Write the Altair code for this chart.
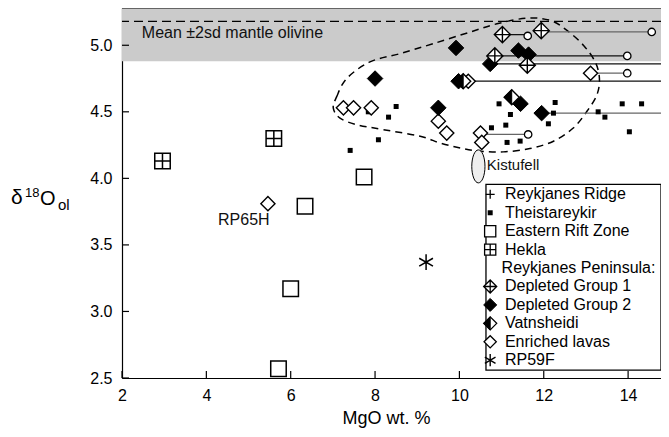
import altair as alt
import pandas as pd

W, H = 539, 370
XDOM = [2, 14.78]
YDOM = [2.5, 5.28]
FONT = "Liberation Sans"

# ---------------- data ----------------
theis_x = [7.41, 7.84, 8.08, 8.32, 8.50, 10.76, 10.94, 11.10, 11.13, 11.21, 11.44,
           12.11, 12.23, 12.27, 13.29, 13.45, 13.86, 14.03, 14.32]
theis_y = [4.21, 4.50, 4.29, 4.46, 4.54, 4.38, 4.56, 4.40, 4.27, 4.48, 4.28,
           4.41, 4.49, 4.57, 4.50, 4.46, 4.56, 4.35, 4.56]

erz_x = [7.74, 6.34, 6.00, 5.71]
erz_y = [4.01, 3.79, 3.17, 2.57]

hekla_x = [2.96, 5.60]
hekla_y = [4.13, 4.30]

rp59f_x = [9.21]
rp59f_y = [3.37]

enr_x = [5.46, 7.25, 7.49, 7.91, 9.50, 9.70, 10.21, 10.50, 10.53, 13.11]
enr_y = [3.81, 4.53, 4.53, 4.53, 4.43, 4.34, 4.73, 4.34, 4.27, 4.79]

dg2_x = [8.00, 9.92, 9.50, 9.98, 10.73, 11.40, 11.64, 11.45, 11.95]
dg2_y = [4.75, 4.98, 4.53, 4.73, 4.86, 4.96, 4.93, 4.56, 4.49]

vat_x = [10.09, 11.24]
vat_y = [4.73, 4.61]

dg1_x = [11.02, 11.94, 10.84, 11.61]
dg1_y = [5.08, 5.11, 4.92, 4.85]

circ_x = [11.62, 14.56, 13.98, 13.98, 11.63]
circ_y = [5.07, 5.10, 4.92, 4.79, 4.33]

# ranges (start, end, y)
blk_x1 = [11.02, 10.84, 10.73, 9.98]
blk_x2 = [11.62, 13.98, 15.50, 15.50]
blk_y = [5.08, 4.92, 4.86, 4.73]
gry_x1 = [11.94, 13.11, 11.95, 10.50]
gry_x2 = [14.56, 13.98, 15.50, 11.63]
gry_y = [5.10, 4.79, 4.49, 4.33]

# mantle olivine band
mantle_mean = 5.18
mantle_lo = 4.88
mantle_hi = 5.48

# dashed field outline
out_x = [7.01, 7.09, 7.33, 7.88, 8.59, 9.38, 10.25, 10.89, 11.60, 12.15, 12.55, 12.94,
         13.22, 13.32, 13.26, 13.02, 12.70, 12.23, 11.67, 11.04, 10.49, 10.02, 9.54,
         9.07, 8.20, 7.57, 7.17]
out_y = [4.527, 4.614, 4.751, 4.875, 4.937, 5.012, 5.099, 5.161, 5.204, 5.187, 5.112,
         5.000, 4.875, 4.751, 4.627, 4.502, 4.378, 4.279, 4.224, 4.199, 4.204, 4.228,
         4.266, 4.316, 4.366, 4.403, 4.452]

kist_x = [10.45]
kist_y = [4.09]

x_ticks = [2, 4, 6, 8, 10, 12, 14]
y_ticks = [2.5, 3.0, 3.5, 4.0, 4.5, 5.0]

legend_labels = ["Reykjanes Ridge", "Theistareykir", "Eastern Rift Zone", "Hekla",
                 "Reykjanes Peninsula:", "Depleted Group 1", "Depleted Group 2",
                 "Vatnsheidi", "Enriched lavas", "RP59F"]

# ---------------- shapes ----------------
DIAMOND_CROSS = "M0,-1L1,0L0,1L-1,0Z M-1,0L1,0 M0,-1L0,1"
SQUARE_CROSS = "M-1,-1L1,-1L1,1L-1,1Z M-1,0L1,0 M0,-1L0,1"
HALF_LEFT = "M0,-1L-1,0L0,1Z"
ASTERISK = "M0,-1L0,1 M-0.87,-0.5L0.87,0.5 M-0.87,0.5L0.87,-0.5"
PLUS = "M-1,0L1,0 M0,-1L0,1"
ELLIPSE = "M0,-1 A0.4,1 0 1,1 0,1 A0.4,1 0 1,1 0,-1 Z"

xscale = alt.Scale(domain=XDOM, nice=False, zero=False)
yscale = alt.Scale(domain=YDOM, nice=False, zero=False)
xaxis = alt.Axis(values=x_ticks, ticks=False, grid=False, labelFontSize=16, labelFont=FONT,
                 labelColor="black", labelPadding=9, labelFlush=False, domainColor="black",
                 domainWidth=1.2, title="MgO wt. %", titleFont=FONT, titleFontSize=18,
                 titleFontWeight="normal", titleColor="black", titleX=264, titleY=45,
                 titleBaseline="alphabetic", titleAlign="center")
yaxis = alt.Axis(values=y_ticks, format=".1f", ticks=False, grid=False, labelFontSize=16,
                 labelFont=FONT, labelColor="black", labelPadding=10, labelFlush=False,
                 domainColor="black", domainWidth=1.2, title=None)

EX = alt.X("x:Q", scale=xscale, axis=xaxis)
EY = alt.Y("y:Q", scale=yscale, axis=yaxis)


def df(xs, ys):
    return pd.DataFrame({"x": xs, "y": ys})


def pts(data, shape, size, fill, stroke="black", sw=1.3):
    return alt.Chart(data).mark_point(shape=shape, size=size, filled=True, fill=fill,
                                      stroke=stroke, strokeWidth=sw, opacity=1,
                                      fillOpacity=1, clip=True).encode(x=EX, y=EY)


layers = []

# band
band = alt.Chart(pd.DataFrame({"x": [XDOM[0]], "x2": [XDOM[1]], "y": [mantle_lo], "y2": [mantle_hi]}))
layers.append(band.mark_rect(color="#cbcbcb", clip=True).encode(x=EX, x2="x2:Q", y=EY, y2="y2:Q"))
mean_df = pd.DataFrame({"y": [mantle_mean]})
layers.append(alt.Chart(mean_df).mark_rule(color="black", strokeWidth=1.3, strokeDash=[9, 5])
              .encode(y=EY))
layers.append(alt.Chart(pd.DataFrame({"x": [2.47], "y": [5.09], "t": ["Mean ±2sd mantle olivine"]}))
              .mark_text(font=FONT, fontSize=16, align="left", baseline="middle", color="#111")
              .encode(x=EX, y=EY, text="t:N"))

# outline
out_df = pd.DataFrame({"x": out_x, "y": out_y, "i": list(range(len(out_x)))})
layers.append(alt.Chart(out_df).mark_line(interpolate="cardinal-closed", strokeDash=[7, 5],
                                          strokeWidth=1.5, color="black", clip=True)
              .encode(x=EX, y=EY, order="i:Q"))

# Kistufell
layers.append(pts(df(kist_x, kist_y), ELLIPSE, 1089, "#eeeeee", sw=1))
layers.append(alt.Chart(pd.DataFrame({"x": [10.65], "y": [4.10], "t": ["Kistufell"]}))
              .mark_text(font=FONT, fontSize=15, align="left", baseline="middle", color="#111")
              .encode(x=EX, y=EY, text="t:N"))

# range lines
layers.append(alt.Chart(pd.DataFrame({"x": blk_x1, "x2": blk_x2, "y": blk_y}))
              .mark_rule(color="#111", strokeWidth=1.3, clip=True).encode(x=EX, x2="x2:Q", y=EY))
layers.append(alt.Chart(pd.DataFrame({"x": gry_x1, "x2": gry_x2, "y": gry_y}))
              .mark_rule(color="#666", strokeWidth=1.3, clip=True).encode(x=EX, x2="x2:Q", y=EY))
layers.append(pts(df(circ_x, circ_y), "circle", 55, "white", sw=1.3))

# groups
layers.append(pts(df(theis_x, theis_y), "square", 25, "black", sw=0))
layers.append(pts(df(erz_x, erz_y), "square", 240, "white", sw=1.5))
layers.append(pts(df(hekla_x, hekla_y), SQUARE_CROSS, 240, "white", sw=1.5))
layers.append(pts(df(rp59f_x, rp59f_y), ASTERISK, 250, "black", sw=1.5))
layers.append(pts(df(enr_x, enr_y), "diamond", 200, "white", sw=1.4))
layers.append(pts(df(dg2_x, dg2_y), "diamond", 240, "black", sw=1))
layers.append(pts(df(vat_x, vat_y), "diamond", 225, "white", sw=1.4))
layers.append(pts(df(vat_x, vat_y), HALF_LEFT, 225, "black", sw=1))
layers.append(pts(df(dg1_x, dg1_y), DIAMOND_CROSS, 260, "white", sw=1.4))

layers.append(alt.Chart(pd.DataFrame({"x": [5.5], "y": [3.69], "t": ["RP65H"]}))
              .mark_text(font=FONT, fontSize=16, align="right", baseline="middle", color="#111")
              .encode(x=EX, y=EY, text="t:N"))

# legend
LX_SYM, LX_TXT, LX_HDR = 10.73, 11.08, 11.0
LY0, LSTEP = 3.88, 0.1385
ly = [LY0 - i * LSTEP for i in range(len(legend_labels))]
layers.append(alt.Chart(pd.DataFrame({"x": [10.63], "x2": [XDOM[1]], "y": [ly[-1] - 0.075], "y2": [LY0 + 0.075]}))
              .mark_rect(fill="white", stroke="black", strokeWidth=1.3, clip=True)
              .encode(x=EX, x2="x2:Q", y=EY, y2="y2:Q"))
txt_df = pd.DataFrame({"x": [LX_HDR if i == 4 else LX_TXT for i in range(len(legend_labels))],
                       "y": ly, "t": legend_labels})
layers.append(alt.Chart(txt_df).mark_text(font=FONT, fontSize=16, align="left", baseline="middle",
                                          color="black", clip=True)
              .encode(x=EX, y=EY, text="t:N"))
layers.append(pts(df([LX_SYM], [ly[0]]), PLUS, 80, "black", sw=1.3))
layers.append(pts(df([LX_SYM], [ly[1]]), "square", 25, "black", sw=0))
layers.append(pts(df([LX_SYM], [ly[2]]), "square", 125, "white", sw=1.3))
layers.append(pts(df([LX_SYM], [ly[3]]), SQUARE_CROSS, 125, "white", sw=1.3))
layers.append(pts(df([LX_SYM], [ly[5]]), DIAMOND_CROSS, 170, "white", sw=1.3))
layers.append(pts(df([LX_SYM], [ly[6]]), "diamond", 170, "black", sw=1))
layers.append(pts(df([LX_SYM], [ly[7]]), "diamond", 170, "white", sw=1.3))
layers.append(pts(df([LX_SYM], [ly[7]]), HALF_LEFT, 170, "black", sw=1))
layers.append(pts(df([LX_SYM], [ly[8]]), "diamond", 150, "white", sw=1.3))
layers.append(pts(df([LX_SYM], [ly[9]]), ASTERISK, 150, "black", sw=1.4))

# inward ticks + top frame
layers.append(alt.Chart(pd.DataFrame({"x": x_ticks})).mark_rule(color="black", strokeWidth=1.2)
              .encode(x=EX, y=alt.value(H), y2=alt.value(H - 7)))
layers.append(alt.Chart(pd.DataFrame({"y": y_ticks})).mark_rule(color="black", strokeWidth=1.2)
              .encode(y=EY, x=alt.value(0), x2=alt.value(7)))
layers.append(alt.Chart(pd.DataFrame({"y": [YDOM[1]]})).mark_rule(color="black", strokeWidth=1.2)
              .encode(y=EY, x=alt.value(0), x2=alt.value(W)))

# y title pieces
def ttl(t, x, y, size):
    return (alt.Chart(pd.DataFrame({"t": [t]}))
            .mark_text(font=FONT, fontSize=size, align="left", baseline="alphabetic", color="black")
            .encode(x=alt.value(x), y=alt.value(y), text="t:N"))

layers.append(ttl("δ", -111, 196, 21))
layers.append(ttl("18", -97, 189, 13))
layers.append(ttl("O", -82, 197, 20))
layers.append(ttl("ol", -64, 202, 15))

chart = alt.layer(*layers).properties(
    width=W, height=H,
    padding={"left": 114, "top": 0, "right": 0, "bottom": 50},
    autosize=alt.AutoSizeParams(type="none"),
    background="white",
).configure_view(stroke=None)

chart.save("out.html", embed_options={"renderer": "svg", "actions": False})
